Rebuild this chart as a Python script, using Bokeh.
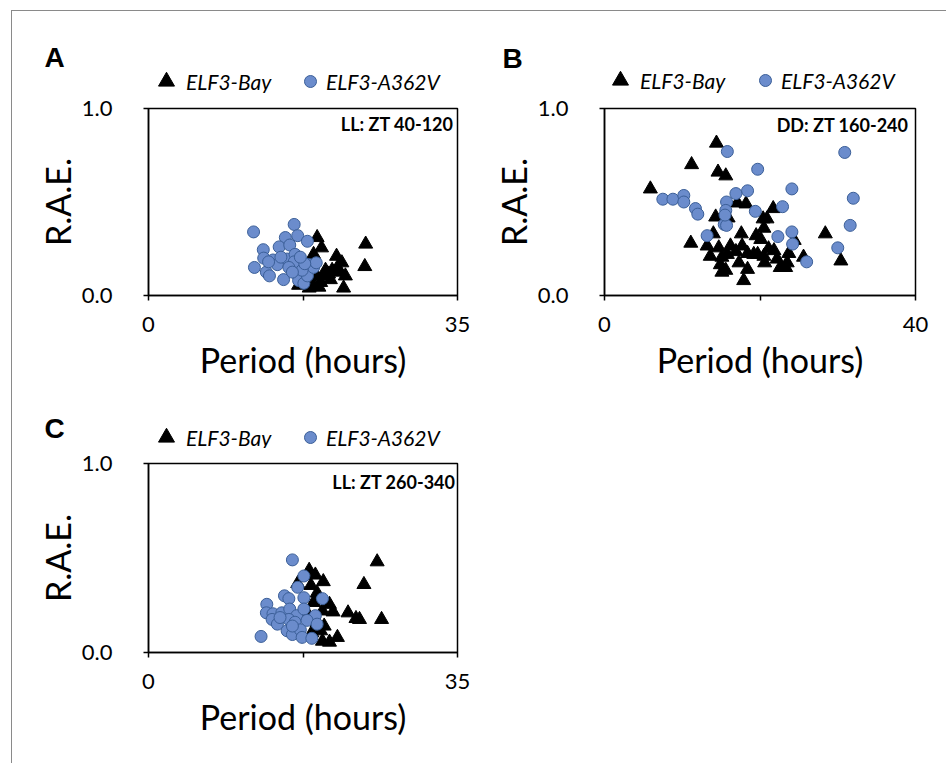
from bokeh.plotting import figure
from bokeh.models import Range1d, FixedTicker, Label, Legend, LegendItem, PrintfTickFormatter
from bokeh.layouts import column, row
from bokeh.embed import file_html
from bokeh.resources import INLINE

# ---------------- data ----------------
series_names = ["ELF3-Bay", "ELF3-A362V"]
panel_letters = ["A", "B", "C"]
panel_notes = ["LL: ZT 40-120", "DD: ZT 160-240", "LL: ZT 260-340"]
x_max = [35, 40, 35]
y_ticks = [0.0, 1.0]
x_label = "Period (hours)"
y_label = "R.A.E."

a_bay_period = [19.1, 19.6, 18.7, 21.3, 21.9, 24.6, 24.5, 20.05, 20.8, 21.7, 22.3, 20.6, 19.5, 18.7,
                18.2, 17.0, 22.1, 20.4, 19.1, 21.4, 19.8, 19.3]
a_bay_rae = [0.31, 0.255, 0.22, 0.21, 0.175, 0.275, 0.155, 0.135, 0.135, 0.125, 0.105, 0.085, 0.07, 0.055,
             0.04, 0.055, 0.04, 0.115, 0.10, 0.15, 0.105, 0.045]
a_mut_period = [11.9, 16.5, 15.5, 16.9, 18.0, 14.8, 16.0, 13.0, 13.05, 12.0, 13.35, 13.7, 14.1, 14.6, 15.3,
                15.7, 16.6, 16.5, 15.9, 16.8, 17.0, 17.6, 18.0, 18.2, 18.7, 19.0, 17.4, 16.3, 15.0, 13.6,
                17.7, 17.2]
a_mut_rae = [0.34, 0.38, 0.31, 0.32, 0.29, 0.26, 0.27, 0.245, 0.20, 0.15, 0.125, 0.105, 0.19, 0.165, 0.085,
             0.195, 0.22, 0.18, 0.15, 0.115, 0.08, 0.065, 0.105, 0.165, 0.15, 0.175, 0.135, 0.125, 0.205, 0.18,
             0.17, 0.205]

b_bay_period = [14.4, 11.2, 14.6, 15.6, 5.9, 17.1, 18.2, 21.7, 14.3, 15.9, 20.4, 20.9, 20.5, 28.4, 14.0,
                17.6, 19.5, 20.1, 11.1, 24.4, 13.2, 14.7, 16.2, 17.7, 16.9, 18.4, 19.2, 19.7, 21.1, 21.8,
                23.7, 20.5, 13.6, 15.1, 15.8, 17.3, 20.6, 22.2, 23.5, 25.6, 30.4, 14.9, 15.6, 22.6, 23.3,
                18.4, 17.9, 15.1]
b_bay_rae = [0.815, 0.70, 0.66, 0.64, 0.57, 0.495, 0.49, 0.465, 0.42, 0.415, 0.41, 0.41, 0.36, 0.33, 0.33,
             0.33, 0.32, 0.30, 0.28, 0.295, 0.265, 0.255, 0.265, 0.265, 0.235, 0.225, 0.22, 0.22, 0.25, 0.24,
             0.225, 0.21, 0.21, 0.205, 0.22, 0.175, 0.175, 0.195, 0.175, 0.205, 0.185, 0.165, 0.135, 0.15,
             0.15, 0.14, 0.08, 0.125]
b_mut_period = [15.8, 30.9, 19.7, 18.4, 24.1, 16.9, 7.5, 8.8, 10.2, 10.2, 32.0, 15.7, 11.7, 12.0, 15.6, 19.4,
                22.9, 15.4, 15.7, 31.6, 13.2, 22.3, 24.1, 24.2, 30.0, 26.0, 15.5]
b_mut_rae = [0.77, 0.765, 0.675, 0.56, 0.57, 0.545, 0.515, 0.515, 0.535, 0.50, 0.52, 0.50, 0.465, 0.435,
             0.455, 0.45, 0.475, 0.38, 0.375, 0.375, 0.32, 0.315, 0.34, 0.275, 0.255, 0.18, 0.43]

c_bay_period = [18.2, 18.9, 19.8, 25.9, 24.4, 16.9, 18.4, 19.1, 20.5, 20.9, 18.7, 22.6, 23.5, 23.9, 26.4,
                19.7, 17.96, 19.1, 19.5, 19.7, 20.5, 21.4, 18.5, 19.9]
c_bay_rae = [0.435, 0.41, 0.375, 0.48, 0.36, 0.365, 0.355, 0.315, 0.255, 0.215, 0.265, 0.21, 0.18, 0.175,
             0.175, 0.22, 0.21, 0.16, 0.115, 0.06, 0.055, 0.08, 0.105, 0.14]
c_mut_period = [16.3, 17.6, 16.9, 13.4, 15.4, 15.9, 17.6, 19.7, 13.35, 14.1, 15.1, 16.0, 16.8, 17.6, 18.9,
                14.0, 14.6, 15.9, 16.6, 17.96, 19.1, 15.7, 16.3, 17.2, 17.4, 18.5, 12.75, 16.3, 14.9]
c_mut_rae = [0.49, 0.405, 0.345, 0.255, 0.30, 0.285, 0.29, 0.285, 0.21, 0.205, 0.21, 0.23, 0.195, 0.23,
             0.195, 0.175, 0.15, 0.175, 0.16, 0.17, 0.15, 0.115, 0.095, 0.12, 0.08, 0.075, 0.085, 0.14, 0.185]

# ---------------- layout geometry (page pixels) ----------------
OX, OY = 12, 11          # content origin (after the grey frame line)
FIG_W = 467
HEAD1_H, PANEL1_H, HEAD2_H, PANEL2_H = 82, 307, 48, 315

BLUE_FILL = "#6b8ccc"
BLUE_LINE = "#3b5f98"
FONT = "Lato"


def style_axis(ax, standoff, label_standoff):
    ax.minor_tick_line_color = None
    ax.major_tick_out = 5
    ax.major_tick_in = 0
    ax.axis_line_width = 1.5
    ax.major_tick_line_width = 1.5
    ax.axis_line_color = "black"
    ax.major_tick_line_color = "black"
    ax.major_label_text_font = FONT
    ax.major_label_text_font_size = "22px"
    ax.major_label_text_color = "black"
    ax.major_label_standoff = standoff
    ax.axis_label_text_font = FONT
    ax.axis_label_text_font_size = "34px"
    ax.axis_label_text_font_style = "normal"
    ax.axis_label_text_color = "black"
    ax.axis_label_standoff = label_standoff


def make_panel(fig_left, fig_top, fig_h, frame, xmax, note, bay_x, bay_y, mut_x, mut_y, note_pos):
    fl, fr, ft, fb = frame
    p = figure(width=FIG_W, height=fig_h, output_backend="svg", toolbar_location=None,
               x_range=Range1d(0, xmax), y_range=Range1d(0, 1),
               min_border_left=fl - fig_left, min_border_right=fig_left + FIG_W - fr,
               min_border_top=ft - fig_top, min_border_bottom=fig_top + fig_h - fb)
    p.grid.visible = False
    p.outline_line_color = "black"
    p.outline_line_width = 1.5

    xa = p.xaxis[0]
    xa.ticker = FixedTicker(ticks=[0, xmax / 2, xmax])
    xa.major_label_overrides = {0: "0", xmax / 2: "", xmax: str(xmax)}
    xa.axis_label = x_label
    style_axis(xa, 16, 4)

    ya = p.yaxis[0]
    ya.ticker = FixedTicker(ticks=y_ticks)
    ya.formatter = PrintfTickFormatter(format="%.1f")
    ya.axis_label = y_label
    style_axis(ya, 31, 1)

    p.scatter(bay_x, bay_y, marker="triangle", size=14, fill_color="black", line_color="black")
    p.scatter(mut_x, mut_y, marker="circle", size=12, fill_color=BLUE_FILL,
              line_color=BLUE_LINE, line_width=1)

    fw, fh = fr - fl, fb - ft
    p.add_layout(Label(x=(note_pos[0] - fl) / fw * xmax, y=(fb - note_pos[1]) / fh, text=note,
                       text_align="right", text_baseline="middle", text_font=FONT,
                       text_font_style="bold", text_font_size="18px", text_color="black"))
    return p


def make_header(fig_left, fig_top, fig_h, letter, letter_pos, tri_pos, circ_pos,
                bay_x, bay_y, mut_x, mut_y):
    p = figure(width=FIG_W, height=fig_h, output_backend="svg", toolbar_location=None,
               x_range=Range1d(0, FIG_W), y_range=Range1d(0, fig_h), min_border=0,
               x_axis_location=None, y_axis_location=None)
    p.grid.visible = False
    p.outline_line_color = None
    fb = fig_top + fig_h

    # legend-only renderers (hidden; they only lend their style to the legend keys)
    r_bay = p.scatter(bay_x, bay_y, marker="triangle", fill_color="black", line_color="black",
                      visible=False)
    r_mut = p.scatter(mut_x, mut_y, marker="circle", fill_color=BLUE_FILL, line_color=BLUE_LINE,
                      line_width=1, visible=False)
    tri_box, circ_box = 40, 30
    for rend, name, (cx, cy), box, text_x in [(r_bay, series_names[0], tri_pos, tri_box, tri_pos[0] + 17),
                                               (r_mut, series_names[1], circ_pos, circ_box, circ_pos[0] + 16)]:
        x0 = cx - box // 2
        lg = Legend(items=[LegendItem(label=name, renderers=[rend])],
                    location=(x0 - fig_left, fb - cy - box // 2),
                    glyph_width=box, glyph_height=box, label_standoff=text_x - (x0 + box),
                    padding=0, margin=0, spacing=0,
                    border_line_color=None, background_fill_alpha=0,
                    inactive_fill_alpha=0,
                    label_text_font=FONT, label_text_font_style="italic",
                    label_text_font_size="21px", label_text_color="black")
        p.add_layout(lg)

    p.add_layout(Label(x=letter_pos[0] - fig_left, y=fb - letter_pos[1], text=letter, text_align="center",
                       text_baseline="middle", text_font="Liberation Sans", text_font_style="bold",
                       text_font_size="28px", text_color="black"))
    return p


y_head1 = OY
y_panel1 = y_head1 + HEAD1_H
y_head2 = y_panel1 + PANEL1_H
y_panel2 = y_head2 + HEAD2_H
xA, xB = OX, OX + FIG_W

hA = make_header(xA, y_head1, HEAD1_H, panel_letters[0], (54, 57), (166, 81), (310, 81),
                 a_bay_period, a_bay_rae, a_mut_period, a_mut_rae)
hB = make_header(xB, y_head1, HEAD1_H, panel_letters[1], (512, 58), (620, 80), (765, 80),
                 b_bay_period, b_bay_rae, b_mut_period, b_mut_rae)
hC = make_header(xA, y_head2, HEAD2_H, panel_letters[2], (54, 428), (166, 437), (310, 437),
                 c_bay_period, c_bay_rae, c_mut_period, c_mut_rae)

pA = make_panel(xA, y_panel1, PANEL1_H, (148, 457, 108, 295), x_max[0], panel_notes[0],
                a_bay_period, a_bay_rae, a_mut_period, a_mut_rae, (453, 123))
pB = make_panel(xB, y_panel1, PANEL1_H, (604, 915, 108, 297), x_max[1], panel_notes[1],
                b_bay_period, b_bay_rae, b_mut_period, b_mut_rae, (908, 125))
pC = make_panel(xA, y_panel2, PANEL2_H, (148, 457, 463, 652), x_max[2], panel_notes[2],
                c_bay_period, c_bay_rae, c_mut_period, c_mut_rae, (455, 481))

layout = column(row(hA, hB), row(pA, pB), row(hC), row(pC),
                styles={"margin-left": "11px", "margin-top": "10px",
                        "border-left": "1px solid #8a8a8a", "border-top": "1px solid #8a8a8a"})

open("out.html", "w").write(file_html(layout, INLINE))
